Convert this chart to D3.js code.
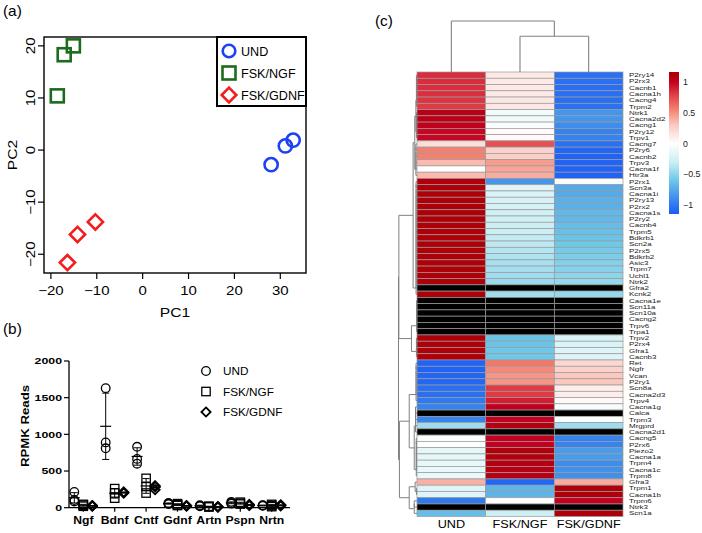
<!DOCTYPE html>
<html><head><meta charset="utf-8">
<script src="https://cdn.jsdelivr.net/npm/d3@7"></script>
<style>body{margin:0;background:#fff}svg{display:block}text{font-family:"Liberation Sans",Arial,Helvetica,sans-serif}</style>
</head><body><svg id="c" width="702" height="533"></svg>
<script>
// ---------- DATA ----------
const pcaGroups = ["UND", "FSK/NGF", "FSK/GDNF"];
const pcaUND_PC1 = [28.0, 31.1, 32.8];
const pcaUND_PC2 = [-2.8, 0.8, 1.9];
const pcaNGF_PC1 = [-15.1, -17.1, -18.6];
const pcaNGF_PC2 = [20.0, 18.3, 10.4];
const pcaGDNF_PC1 = [-10.3, -14.2, -16.4];
const pcaGDNF_PC2 = [-13.8, -16.2, -21.6];
const pcaXTicks = [-20, -10, 0, 10, 20, 30];
const pcaYTicks = [-20, -10, 0, 10, 20];

const factors = ["Ngf", "Bdnf", "Cntf", "Gdnf", "Artn", "Pspn", "Nrtn"];
const rpkmUND = [[215,105,85],[1630,890,810],[830,665,600],[65,55,50],[35,25,20],[80,65,55],[35,30,25]];
const rpkmNGF = [[45,20,35],[260,200,130],[400,290,200],[55,40,30],[20,15,10],[75,60,50],[45,30,15]];
const rpkmGDNF = [[30,25,20],[215,205,200],[300,245,285],[30,25,20],[15,10,8],[45,35,30],[40,30,25]];
const rpkmTicks = [0, 500, 1000, 1500, 2000];

const heatCols = ["UND", "FSK/NGF", "FSK/GDNF"];
const heatGenes = ["P2ry14","P2rx3","Cacnb1","Cacna1h","Cacng4","Trpm2","Ntrk1","Cacna2d2","Cacng1","P2ry12",
 "Trpv1","Cacng7","P2ry6","Cacnb2","Trpv3","Cacna1f","Htr3a","P2rx1","Scn3a","Cacna1i",
 "P2ry13","P2rx2","Cacna1s","P2ry2","Cacnb4","Trpm5","Bdkrb1","Scn2a","P2rx5","Bdkrb2",
 "Asic3","Trpm7","Uchl1","Ntrk2","Gfra2","Kcnk2","Cacna1e","Scn11a","Scn10a","Cacng2",
 "Trpv6","Trpa1","Trpv2","P2rx4","Gfra1","Cacnb3","Ret","Ngfr","Vcan","P2ry1",
 "Scn8a","Cacna2d3","Trpv4","Cacna1g","Calca","Trpm3","Mrgprd","Cacna2d1","Cacng5","P2rx6",
 "Piezo2","Cacna1a","Trpm4","Cacna1c","Trpm8","Gfra3","Trpm1","Cacna1b","Trpm6","Ntrk3","Scn1a"];
const zUND = [0.85,0.85,0.84,0.84,0.82,0.8,1.05,1.05,1.02,0.98,
 0.98,0.18,0.55,0.55,0.35,0.0,0.35,1.1,1.12,1.12,
 1.12,1.12,1.12,1.12,1.12,1.12,1.12,1.12,1.12,1.12,
 1.12,1.12,1.12,1.12,null,1.12,null,null,null,null,
 null,null,1.12,1.12,1.12,1.12,-1.12,-1.12,-1.1,-1.1,
 -1.05,-1.05,-1.0,-0.95,null,-0.95,-0.45,null,-0.04,-0.02,
 -0.15,-0.15,-0.13,-0.13,-0.13,0.38,-0.2,-0.2,-1.0,null,-0.65];
const zNGF = [0.12,0.12,0.12,0.12,0.13,0.13,-0.08,-0.08,-0.03,0.03,
 0.03,0.72,0.25,0.27,0.45,0.42,0.4,-0.85,-0.2,-0.22,
 -0.24,-0.25,-0.28,-0.29,-0.3,-0.31,-0.33,-0.35,-0.38,-0.4,
 -0.42,-0.43,-0.45,-0.46,null,-0.45,null,null,null,null,
 null,null,-0.62,-0.62,-0.6,-0.6,0.58,0.52,0.48,0.48,
 0.8,0.8,0.9,1.02,null,1.0,1.08,null,1.0,1.0,
 1.1,1.1,1.08,1.06,1.06,-1.1,-0.7,-0.7,0.0,null,-0.3];
const zGDNF = [-1.05,-1.05,-1.06,-1.06,-1.06,-1.05,-0.85,-0.85,-0.9,-0.95,
 -0.95,-1.05,-1.1,-1.12,-1.12,-1.12,-1.12,-0.05,-0.75,-0.75,
 -0.72,-0.72,-0.68,-0.68,-0.65,-0.64,-0.62,-0.6,-0.58,-0.56,
 -0.53,-0.52,-0.5,-0.48,null,-0.48,null,null,null,null,
 null,null,-0.22,-0.22,-0.2,-0.2,0.22,0.25,0.3,0.3,
 0.1,0.1,0.04,-0.05,null,-0.02,-0.45,null,-0.95,-0.95,
 -0.82,-0.82,-0.9,-0.88,-0.88,0.4,1.12,1.12,1.0,null,1.12];
const colorbarTicks = [1, 0.5, 0, -0.5, -1];
// row dendrogram: leaf groups [first, last, height] (heights relative to root = 1)
const rowGroups = [[0,5,0.03],[6,10,0.03],[11,16,0.06],[17,35,0.05],[36,41,0.02],[42,45,0.03],
 [46,52,0.05],[53,57,0.08],[58,64,0.04],[65,65,0],[66,67,0.03],[68,70,0.15]];

// ---------- HELPERS ----------
const svg = d3.select("#c");
function txt(g, x, y, s, o = {}) {
  return g.append("text")
    .attr("transform", `translate(${x},${y})${o.rot ? ` rotate(${o.rot})` : ""} scale(${o.sx || 1},1)`)
    .attr("text-anchor", o.anchor || "start")
    .style("font-size", (o.size || 12) + "px")
    .style("font-weight", o.weight || "normal")
    .attr("fill", o.fill || "#000")
    .text(s);
}
function line(g, x1, y1, x2, y2, st, w) {
  g.append("line").attr("x1", x1).attr("y1", y1).attr("x2", x2).attr("y2", y2)
    .attr("stroke", st || "#000").attr("stroke-width", w || 1);
}
const diamond = r => `M0,${-r}L${r},0L0,${r}L${-r},0Z`;

// ---------- PANEL A ----------
const gA = svg.append("g");
const xA = d3.scaleLinear().domain([-21.5, 35.6]).range([44, 306]);
const yA = d3.scaleLinear().domain([-23.6, 21.7]).range([273, 37]);
txt(gA, 3, 16, "(a)", {size: 14, sx: 1.1});
gA.append("rect").attr("x", 44).attr("y", 37).attr("width", 262).attr("height", 236)
  .attr("fill", "none").attr("stroke", "#000").attr("stroke-width", 1.4);
pcaXTicks.forEach(v => {
  line(gA, xA(v), 273, xA(v), 279, "#000", 1.2);
  txt(gA, xA(v), 295, String(v).replace("-", "\u2212"), {anchor: "middle", size: 12.5, sx: 1.2});
});
pcaYTicks.forEach(v => {
  line(gA, 38, yA(v), 44, yA(v), "#000", 1.2);
  txt(gA, 35, yA(v), String(v).replace("-", "\u2212"), {anchor: "middle", size: 12.5, sx: 1.2, rot: -90});
});
txt(gA, 175, 317, "PC1", {anchor: "middle", size: 13, sx: 1.2});
txt(gA, 17, 155, "PC2", {anchor: "middle", size: 13, sx: 1.2, rot: -90});
const cBlue = "#1c43f2", cGreen = "#1e6b1e", cRed = "#f41c1c";
function markA(g, cx, cy, kind, c, r) {
  if (kind === 0) g.append("circle").attr("cx", cx).attr("cy", cy).attr("r", r)
    .attr("fill", "none").attr("stroke", c).attr("stroke-width", 2.6);
  else if (kind === 1) g.append("rect").attr("x", cx - r).attr("y", cy - r).attr("width", 2 * r).attr("height", 2 * r)
    .attr("fill", "none").attr("stroke", c).attr("stroke-width", 2.6);
  else g.append("path").attr("transform", `translate(${cx},${cy})`).attr("d", diamond(r + 1))
    .attr("fill", "none").attr("stroke", c).attr("stroke-width", 2.6);
}
[[pcaUND_PC1, pcaUND_PC2, cBlue], [pcaNGF_PC1, pcaNGF_PC2, cGreen], [pcaGDNF_PC1, pcaGDNF_PC2, cRed]]
  .forEach(([xs, ys, c], k) => xs.forEach((v, i) => markA(gA, xA(v), yA(ys[i]), k, c, k === 1 ? 6.5 : 6.6)));
// legend
gA.append("rect").attr("x", 217).attr("y", 37).attr("width", 89).attr("height", 69)
  .attr("fill", "#fff").attr("stroke", "#000").attr("stroke-width", 2);
[cBlue, cGreen, cRed].forEach((c, i) => {
  const cy = 51 + i * 22;
  markA(gA, 229, cy, i, c, i === 1 ? 6.5 : 6.3);
  txt(gA, 241, cy + 4.5, pcaGroups[i], {size: 12, sx: 1.05});
});

// ---------- PANEL B ----------
const gB = svg.append("g");
const xB = d3.scalePoint().domain(factors).range([83.3, 271.7]);
const yB = d3.scaleLinear().domain([0, 2000]).range([507.7, 361]);
txt(gB, 3, 334, "(b)", {size: 14, sx: 1.1});
line(gB, 69, yB(2000), 69, yB(0), "#000", 1.3);
line(gB, 69, yB(0), 290, yB(0), "#000", 1.3);
rpkmTicks.forEach(v => {
  line(gB, 64, yB(v), 69, yB(v), "#000", 1.2);
  txt(gB, 62, yB(v) + 3.2, String(v), {anchor: "end", size: 8.5, weight: "bold", sx: 1.45});
});
factors.forEach(f => {
  line(gB, xB(f), yB(0), xB(f), yB(0) + 4, "#000", 1.2);
  txt(gB, xB(f), 524, f, {anchor: "middle", size: 10, weight: "bold", sx: 1.22});
});
txt(gB, 29, 426, "RPMK Reads", {anchor: "middle", size: 11.5, weight: "bold", sx: 1.15, rot: -90});
const offs = [-9, 0, 9];
function markB(g, cx, cy, k) {
  if (k === 0) g.append("circle").attr("cx", cx).attr("cy", cy).attr("r", 4.3).attr("fill", "none").attr("stroke", "#000").attr("stroke-width", 1.3);
  else if (k === 1) g.append("rect").attr("x", cx - 4.2).attr("y", cy - 4.2).attr("width", 8.4).attr("height", 8.4).attr("fill", "none").attr("stroke", "#000").attr("stroke-width", 1.3);
  else g.append("path").attr("transform", `translate(${cx},${cy})`).attr("d", diamond(4.6)).attr("fill", "none").attr("stroke", "#000").attr("stroke-width", 1.8);
}
[rpkmUND, rpkmNGF, rpkmGDNF].forEach((set, k) => {
  set.forEach((vals, i) => {
    const cx = xB(factors[i]) + offs[k];
    const m = d3.mean(vals), sd = d3.deviation(vals);
    vals.forEach(v => markB(gB, cx, yB(v), k));
    const lo = yB(Math.max(0, m - sd)), hi = yB(m + sd);
    line(gB, cx, hi, cx, lo, "#000", 1);
    line(gB, cx - 3.5, hi, cx + 3.5, hi, "#000", 1);
    line(gB, cx - 3.5, lo, cx + 3.5, lo, "#000", 1);
    line(gB, cx - 5.5, yB(m), cx + 5.5, yB(m), "#000", 1.2);
  });
});
pcaGroups.forEach((s, k) => {
  const cy = 371 + k * 20.5;
  markB(gB, 206, cy, k);
  txt(gB, 223, cy + 4, s, {size: 10.5, sx: 1.12});
});

// ---------- PANEL C ----------
const gC = svg.append("g");
txt(gC, 375, 26, "(c)", {size: 14, sx: 1.1});
const xH = d3.scaleBand().domain(heatCols).range([417, 623]);
const yH = d3.scaleBand().domain(heatGenes).range([72, 516.5]);
const stops = [-1.16, -0.85, -0.6, -0.3, 0, 0.3, 0.55, 0.8, 1.0, 1.16];
const stopCols = ["#1a5cf7", "#4596ea", "#6ec8e8", "#cdeff4", "#ffffff", "#fbc8c0", "#f4806f", "#e03a45", "#c40020", "#a50000"];
const col = d3.scaleLinear().domain(stops).range(stopCols).interpolate(d3.interpolateRgb).clamp(true);
const zs = [zUND, zNGF, zGDNF];
heatGenes.forEach((g, i) => {
  heatCols.forEach((c, j) => {
    const v = zs[j][i];
    gC.append("rect").attr("x", xH(c)).attr("y", yH(g)).attr("width", xH.bandwidth()).attr("height", yH.bandwidth())
      .attr("fill", v === null ? "#000" : col(v)).attr("stroke", "#9a9a9a").attr("stroke-width", 0.7);
  });
  txt(gC, 629, yH(g) + yH.bandwidth() / 2 + 2.1, g, {size: 5.7, sx: 1.4, fill: "#222"});
});
heatCols.forEach(c => txt(gC, xH(c) + xH.bandwidth() / 2, 528, c, {anchor: "middle", size: 11.5, sx: 1.1}));
// column dendrogram
const hC = d3.scaleLinear().domain([0, 1]).range([72, 21]);
const colTree = [1.0, 0, [0.7, 1, 2]];
function drawCol(node) {
  if (typeof node === "number") return {x: xH(heatCols[node]) + xH.bandwidth() / 2, h: 0};
  const a = drawCol(node[1]), b = drawCol(node[2]);
  line(gC, a.x, hC(node[0]), b.x, hC(node[0]), "#808080", 1.1);
  line(gC, a.x, hC(node[0]), a.x, hC(a.h), "#808080", 1.1);
  line(gC, b.x, hC(node[0]), b.x, hC(b.h), "#808080", 1.1);
  return {x: (a.x + b.x) / 2, h: node[0]};
}
drawCol(colTree);
// row dendrogram
function ladder(gr) { let n = gr[0]; for (let i = gr[0] + 1; i <= gr[1]; i++) n = [gr[2], n, i]; return n; }
const G = rowGroups.map(ladder);
const rowTree = [1.0,
  [0.98, [0.21, [0.12, [0.06, G[0], G[1]], G[2]], G[3]], [0.3, G[4], G[5]]],
  [0.95, [0.42, G[6], [0.15, G[7], G[8]]], [0.42, [0.1, G[9], G[10]], G[11]]]];
const xD = d3.scaleLinear().domain([0, 1]).range([417, 398.5]);
function drawRow(node) {
  if (typeof node === "number") return {y: yH(heatGenes[node]) + yH.bandwidth() / 2, h: 0};
  const a = drawRow(node[1]), b = drawRow(node[2]);
  const x = xD(node[0]);
  line(gC, x, a.y, x, b.y, "#808080", 1);
  line(gC, x, a.y, xD(a.h), a.y, "#808080", 1);
  line(gC, x, b.y, xD(b.h), b.y, "#808080", 1);
  return {y: (a.y + b.y) / 2, h: node[0]};
}
drawRow(rowTree);
// colour bar
const cb = d3.scaleLinear().domain([-1.15, 1.16]).range([214, 72]);
const lg = svg.append("defs").append("linearGradient").attr("id", "cbg").attr("x1", 0).attr("y1", 1).attr("x2", 0).attr("y2", 0);
stops.forEach(s => lg.append("stop").attr("offset", (s + 1.15) / 2.31).attr("stop-color", col(s)));
gC.append("rect").attr("x", 669).attr("y", 72).attr("width", 10).attr("height", 142).attr("fill", "url(#cbg)");
colorbarTicks.forEach(v => txt(gC, 683, cb(v) + 3.2, String(v).replace("-", "\u2212"), {size: 8.8, fill: "#222"}));
</script></body></html>
